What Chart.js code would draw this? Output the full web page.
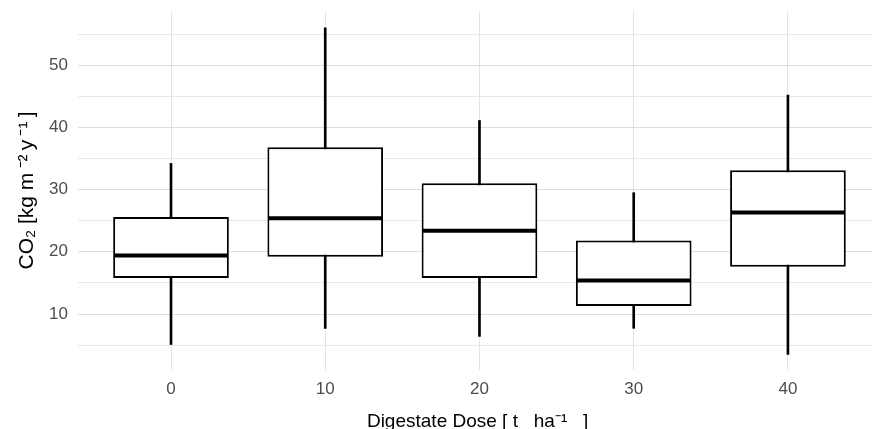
<!DOCTYPE html>
<html>
<head>
<meta charset="utf-8">
<script src="https://cdn.jsdelivr.net/npm/chart.js@4.4.1/dist/chart.umd.min.js"></script>
<style>
  html, body { margin: 0; padding: 0; background: #fff; }
  #wrap { width: 872px; height: 429px; }
</style>
</head>
<body>
<div id="wrap"><canvas id="co2Chart"></canvas></div>
<script>
// ── Data ──────────────────────────────────────────────────────────
const doses = ['0', '10', '20', '30', '40'];
const whiskerLow = [5.1, 7.7, 6.4, 7.7, 3.5];
const q1 = [15.8, 19.2, 15.8, 11.3, 17.6];
const median = [19.4, 25.4, 23.4, 15.4, 26.3];
const q3 = [25.6, 36.8, 31.0, 21.8, 33.1];
const whiskerHigh = [34.2, 56.0, 41.1, 29.5, 45.2];

Chart.defaults.font.family = '"Liberation Sans", Arial, sans-serif';
Chart.defaults.color = '#4d4d4d';

const idx = doses.map((d, i) => i);

new Chart(document.getElementById('co2Chart'), {
    type: 'bar',
    data: {
        datasets: [
            {
                type: 'scatter',
                data: idx.map(i => ({ x: i, y: median[i] })),
                pointStyle: 'line',
                radius: 57,
                hoverRadius: 57,
                borderColor: '#000',
                borderWidth: 4,
                order: 0,
            },
            {
                data: idx.map(i => ({ x: i, y: [q1[i], q3[i]] })),
                backgroundColor: '#fff',
                borderColor: '#000',
                borderWidth: 2,
                borderSkipped: false,
                grouped: false,
                categoryPercentage: 1,
                barPercentage: 0.75,
                order: 1,
            },
            {
                data: idx.map(i => ({ x: i, y: [whiskerLow[i], whiskerHigh[i]] })),
                backgroundColor: '#000',
                borderWidth: 0,
                grouped: false,
                barThickness: 2,
                order: 2,
            },
        ]
    },
    options: {
        responsive: true,
        maintainAspectRatio: false,
        animation: false,
        layout: { autoPadding: false, padding: { top: 11, right: 0, bottom: 0, left: 0 } },
        plugins: { legend: { display: false }, tooltip: { enabled: false } },
        scales: {
            x: {
                type: 'linear',
                offset: false,
                min: -0.603,
                max: 4.545,
                border: { display: false },
                grid: { offset: false, color: '#e3e3e3', drawTicks: false },
                ticks: {
                    stepSize: 1,
                    includeBounds: false,
                    padding: 9,
                    font: { size: 17 },
                    callback: (v) => doses[v] ?? '',
                },
                title: {
                    display: true,
                    text: '\u00A0Digestate Dose [ t   ha\u207B\u00B9   ]',
                    color: '#000',
                    font: { size: 19, lineHeight: 0.8 },
                    padding: { top: 0, bottom: 0 },
                },
                afterFit: (s) => { s.height = 59; s.paddingLeft = 0; s.paddingRight = 0; },
            },
            y: {
                min: 1,
                max: 58.7,
                border: { display: false },
                grid: {
                    drawTicks: false,
                    color: (c) => c.tick && c.tick.value % 10 === 0 ? '#dedede' : '#e9e9e9',
                },
                ticks: {
                    stepSize: 5,
                    includeBounds: false,
                    padding: 10,
                    font: { size: 17 },
                    callback: (v) => v % 10 === 0 ? v : '',
                },
                title: {
                    display: true,
                    text: 'CO\u2082 [kg m\u2009\u207B\u00B2\u2009y\u2009\u207B\u00B9\u2009]',
                    color: '#000',
                    font: { size: 21 },
                    padding: { top: 15, bottom: 0 },
                },
                afterFit: (s) => { s.width = 78; s.paddingTop = 0; s.paddingBottom = 0; },
            }
        }
    }
});
</script>
</body>
</html>
